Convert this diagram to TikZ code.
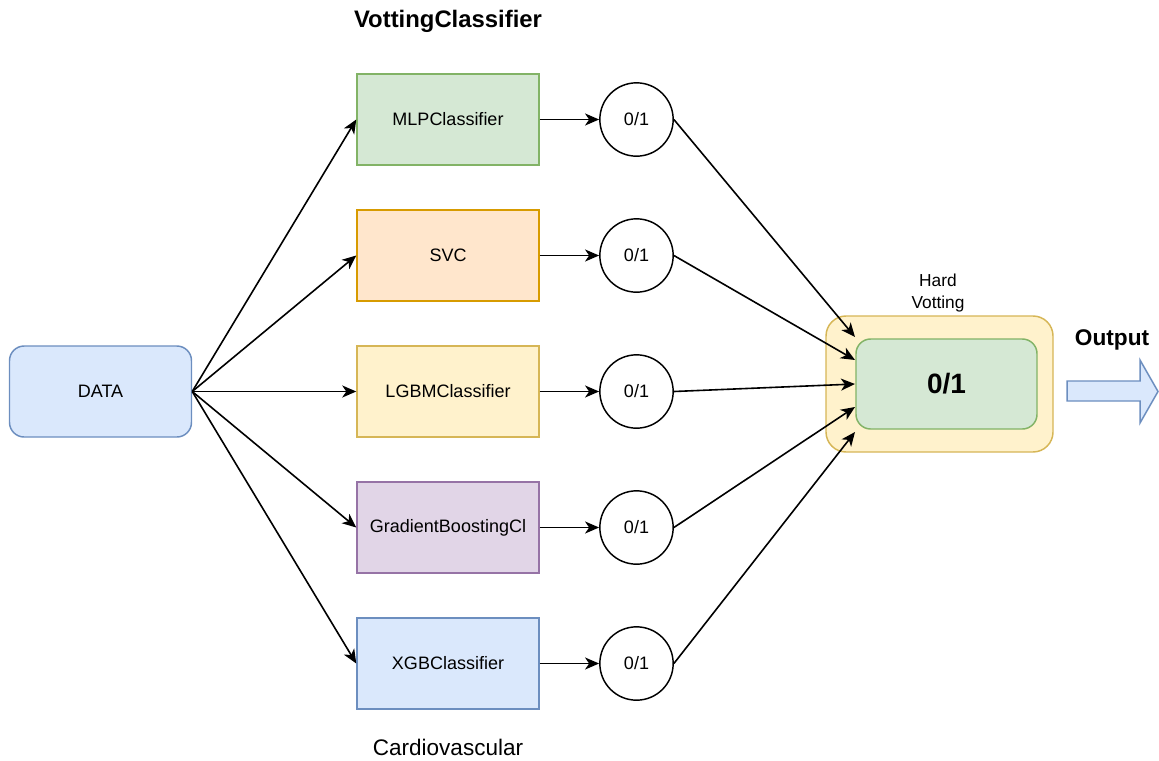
\documentclass[tikz,border=0pt]{standalone}
\usepackage{fontspec}
\setmainfont{Liberation Sans}
\usetikzlibrary{arrows.meta}
\definecolor{bluef}{HTML}{DAE8FC}\definecolor{blued}{HTML}{6C8EBF}
\definecolor{greenf}{HTML}{D5E8D4}\definecolor{greend}{HTML}{82B366}
\definecolor{orangef}{HTML}{FFE6CC}\definecolor{oranged}{HTML}{D79B00}
\definecolor{yellowf}{HTML}{FFF2CC}\definecolor{yellowd}{HTML}{D6B656}
\definecolor{purplef}{HTML}{E1D5E7}\definecolor{purpled}{HTML}{9673A6}
\begin{document}
\begin{tikzpicture}[x=0.75pt,y=-0.75pt,
  lbl/.style={font=\fontsize{13.5pt}{16pt}\selectfont, text=black},
  clsbox/.style={draw, line width=1.1pt, minimum width=136.5pt, minimum height=68.25pt, inner sep=1pt, lbl},
  vote/.style={draw, circle, line width=1.1pt, minimum size=55pt, inner sep=0pt, lbl, fill=white},
  arr/.style={line width=1.2pt, -{Stealth[length=10.5pt,width=9pt,inset=3pt]}}]
\useasboundingbox (0,0) rectangle (1159,760);
% title and caption
\node[font=\bfseries\fontsize{17.9pt}{20pt}\selectfont] (title) at (448,21) {VottingClassifier};
\node[font=\fontsize{16.9pt}{20pt}\selectfont] (caption) at (448,747) {Cardiovascular};
% data
\node[clsbox, fill=bluef, draw=blued, rounded corners=11pt] (data) at (100.5,391.5) {DATA};
% classifiers
\node[clsbox, fill=greenf, draw=greend] (mlp) at (448,119.5) {MLPClassifier};
\node[clsbox, fill=orangef, draw=oranged] (svc) at (448,255.5) {SVC};
\node[clsbox, fill=yellowf, draw=yellowd] (lgbm) at (448,391.5) {LGBMClassifier};
\node[clsbox, fill=purplef, draw=purpled] (gb) at (448,527.5) {GradientBoostingCl};
\node[clsbox, fill=bluef, draw=blued] (xgb) at (448,663.5) {XGBClassifier};
% circles
\node[vote] (c1) at (636.5,119.5) {0/1};
\node[vote] (c2) at (636.5,255.5) {0/1};
\node[vote] (c3) at (636.5,391.5) {0/1};
\node[vote] (c4) at (636.5,527.5) {0/1};
\node[vote] (c5) at (636.5,663.5) {0/1};
% hard voting
\node[draw=yellowd, fill=yellowf, line width=1.1pt, rounded corners=15pt, minimum width=170.25pt, minimum height=102pt] (outer) at (939.5,384) {};
\node[draw=greend, fill=greenf, line width=1.1pt, rounded corners=11pt, minimum width=135.75pt, minimum height=67.5pt, font=\bfseries\fontsize{21pt}{24pt}\selectfont] (inner) at (946.5,384) {0/1};
\node[lbl, align=center, font=\fontsize{13pt}{16.5pt}\selectfont] (hv) at (938,293) {Hard\\Votting};
\node[font=\bfseries\fontsize{17pt}{20pt}\selectfont] (out) at (1112,340) {Output};
\fill[bluef] (1067,381) -- (1140,381) -- (1140,360) -- (1158,391.5) -- (1140,423) -- (1140,401) -- (1067,401) -- cycle;
\draw[blued, line width=1.1pt, line join=miter] (1067,381) -- (1140,381) -- (1140,360) -- (1158,391.5) -- (1140,423) -- (1140,401) -- (1067,401) -- cycle;
% connectors
\foreach \b in {mlp,svc,lgbm,gb,xgb} \draw[arr] (data.east) -- (\b.west);
\draw[arr] (mlp.east) -- (c1.west);
\draw[arr] (svc.east) -- (c2.west);
\draw[arr] (lgbm.east) -- (c3.west);
\draw[arr] (gb.east) -- (c4.west);
\draw[arr] (xgb.east) -- (c5.west);
\coordinate (t1) at (855,337);
\coordinate (t2) at (855,360);
\coordinate (t3) at (855,384);
\coordinate (t4) at (855,407);
\coordinate (t5) at (855,432);
\draw[arr] (c1.east) -- (t1);
\draw[arr] (c2.east) -- (t2);
\draw[arr] (c3.east) -- (t3);
\draw[arr] (c4.east) -- (t4);
\draw[arr] (c5.east) -- (t5);
\end{tikzpicture}
\end{document}
